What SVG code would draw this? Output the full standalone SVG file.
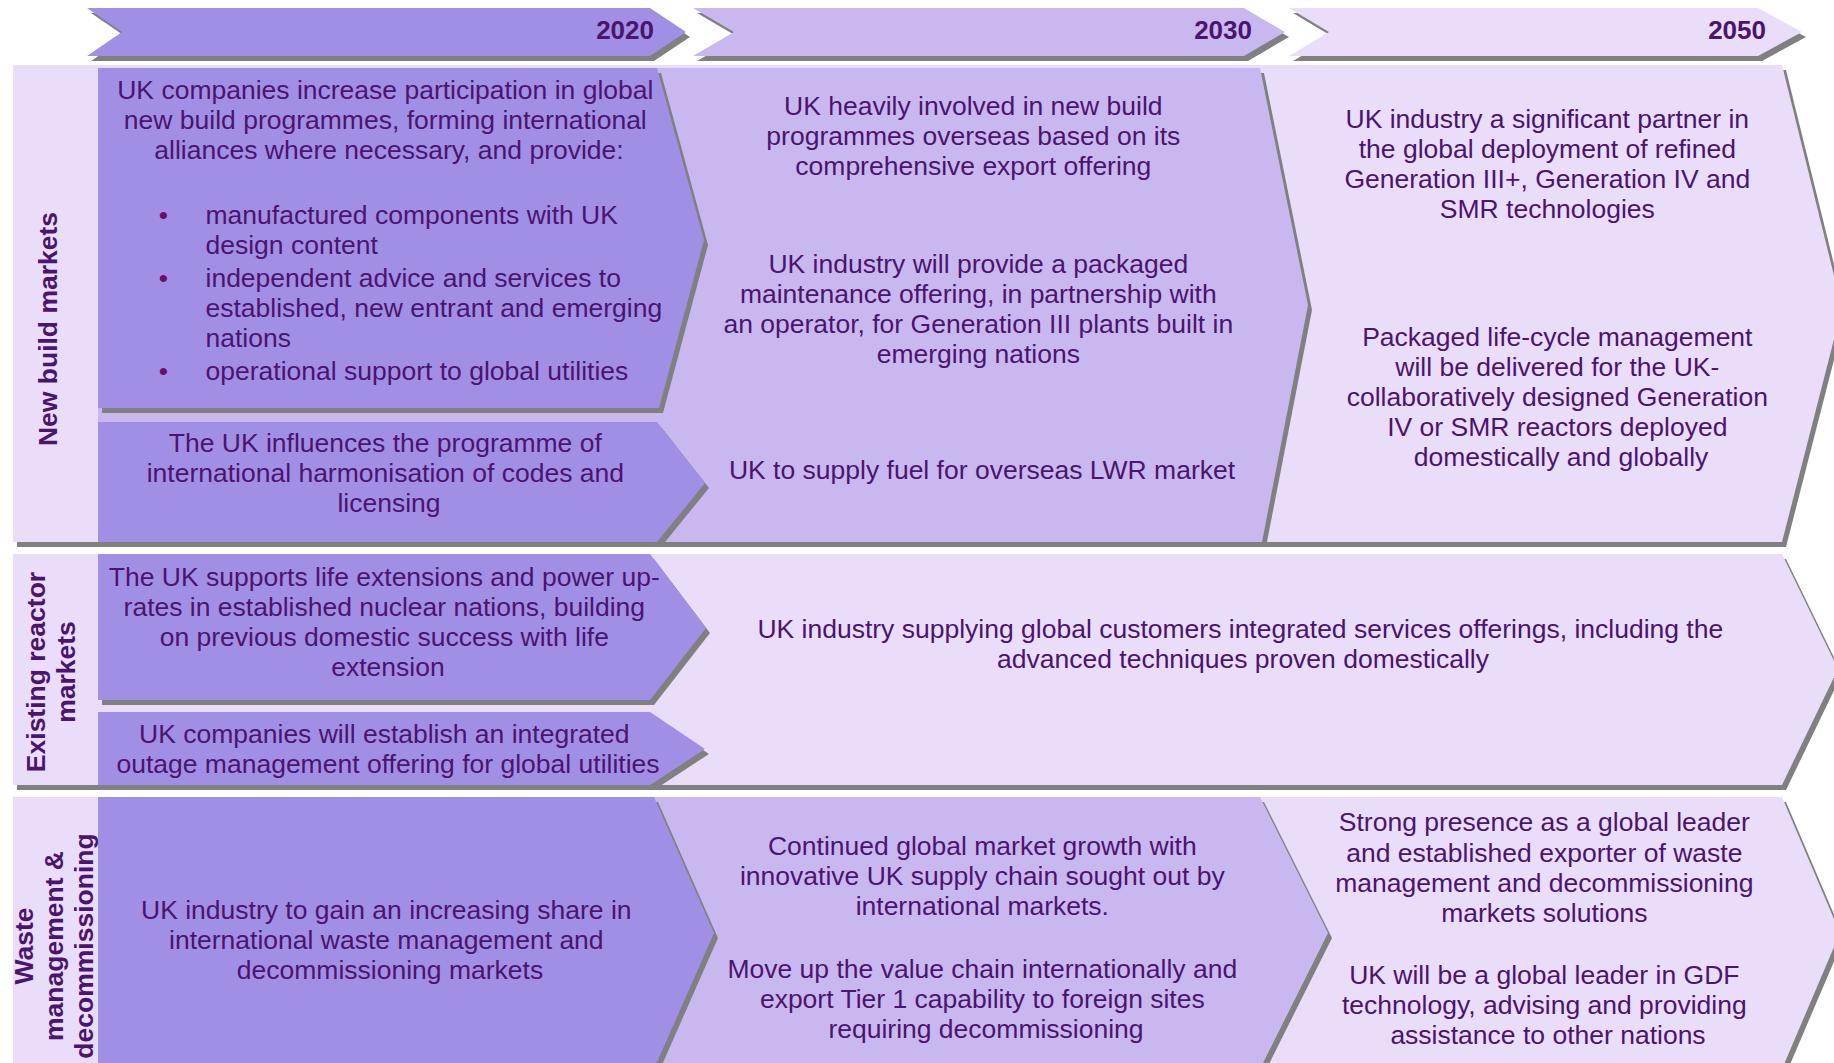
<svg xmlns="http://www.w3.org/2000/svg" xmlns:xlink="http://www.w3.org/1999/xlink" width="1834" height="1063" viewBox="0 0 1834 1063">
<style>
.sh{fill:#808080}
.c1{fill:#A18FE6}
.c2{fill:#C9B8F0}
.c3{fill:#E9DDFA}
text{font-family:"Liberation Sans",Arial,sans-serif;fill:#4B146F}
.t{font-size:26.5px;text-anchor:middle}
.l{font-size:26.5px;text-anchor:start}
.bu{font-size:26.5px;text-anchor:middle;fill:#6B0F6B}
.yr{font-size:26px;font-weight:bold;text-anchor:end}
.lbl{font-size:26.5px;font-weight:bold;text-anchor:middle}
</style>
<defs>
<polygon id="ph2020" points="87,8 650,8 686,32 650,56 87,56 122,32"/>
<polygon id="ph2030" points="693,8 1244,8 1285,32 1244,56 693,56 734,32"/>
<polygon id="ph2050" points="1289,8 1758,8 1802,32 1758,56 1289,56 1329,32"/>
<polygon id="pr1bg" points="13,65 1782,65 1842,308 1782,542 13,542"/>
<polygon id="pr1c2" points="98,68 1260,68 1308,305 1262,542 98,542"/>
<polygon id="pr1a" points="98,68 657,68 704,240 659,408 98,408"/>
<polygon id="pr1b" points="98,422 657,422 705,483 657,542 98,542"/>
<polygon id="pr2bg" points="13,554 1782,554 1838,669 1782,785 13,785"/>
<polygon id="pr2a" points="98,554 650,554 706,628 650,700 98,700"/>
<polygon id="pr2b" points="98,712 650,712 705,749 650,785 98,785"/>
<polygon id="pr3bg" points="13,797 1782,797 1840,933 1782,1069 13,1069"/>
<polygon id="pr3c2" points="98,797 1260,797 1328,933 1260,1069 98,1069"/>
<polygon id="pr3a" points="98,797 654,797 714,933 654,1069 98,1069"/>
</defs>
<rect width="1834" height="1063" fill="#FFFFFF"/>

<g id="header-2020">
<use xlink:href="#ph2020" class="sh" transform="translate(4,5)"/>
<use xlink:href="#ph2020" class="c1"/>
<text class="yr" x="654" y="39">2020</text>
</g>
<g id="header-2030">
<use xlink:href="#ph2030" class="sh" transform="translate(4,5)"/>
<use xlink:href="#ph2030" class="c2"/>
<text class="yr" x="1252" y="39">2030</text>
</g>
<g id="header-2050">
<use xlink:href="#ph2050" class="sh" transform="translate(4,5)"/>
<use xlink:href="#ph2050" class="c3"/>
<text class="yr" x="1766" y="39">2050</text>
</g>

<g id="row-new-build">
<use xlink:href="#pr1bg" class="sh" transform="translate(4,5)"/>
<use xlink:href="#pr1bg" class="c3"/>
<text class="lbl" transform="translate(57,329) rotate(-90)">New build markets</text>
<text class="t">
<tspan x="1551" y="128">UK industry a significant partner in</tspan>
<tspan x="1551" y="158">the global deployment of refined</tspan>
<tspan x="1551" y="188">Generation III+, Generation IV and</tspan>
<tspan x="1551" y="218">SMR technologies</tspan>
<tspan x="1561" y="346">Packaged life-cycle management</tspan>
<tspan x="1561" y="376">will be delivered for the UK-</tspan>
<tspan x="1561" y="406">collaboratively designed Generation</tspan>
<tspan x="1561" y="436">IV or SMR reactors deployed</tspan>
<tspan x="1561" y="466">domestically and globally</tspan>
</text>
</g>
<g id="newbuild-2030">
<use xlink:href="#pr1c2" class="sh" transform="translate(4,5)"/>
<use xlink:href="#pr1c2" class="c2"/>
<text class="t">
<tspan x="977" y="115">UK heavily involved in new build</tspan>
<tspan x="977" y="145">programmes overseas based on its</tspan>
<tspan x="977" y="175">comprehensive export offering</tspan>
<tspan x="982" y="273">UK industry will provide a packaged</tspan>
<tspan x="982" y="303">maintenance offering, in partnership with</tspan>
<tspan x="982" y="333">an operator, for Generation III plants built in</tspan>
<tspan x="982" y="363">emerging nations</tspan>
<tspan x="982" y="479">UK to supply fuel for overseas LWR market</tspan>
</text>
</g>
<g id="newbuild-2020-participation">
<use xlink:href="#pr1a" class="sh" transform="translate(4,5)"/>
<use xlink:href="#pr1a" class="c1"/>
<text class="t">
<tspan x="389" y="99">UK companies increase participation in global</tspan>
<tspan x="389" y="129">new build programmes, forming international</tspan>
<tspan x="389" y="159">alliances where necessary, and provide:</tspan>
</text>
<text class="bu"><tspan x="163.5" y="224">•</tspan><tspan x="163.5" y="287">•</tspan><tspan x="163.5" y="380">•</tspan></text>
<text class="l">
<tspan x="205.5" y="224">manufactured components with UK</tspan>
<tspan x="205.5" y="254">design content</tspan>
<tspan x="205.5" y="287">independent advice and services to</tspan>
<tspan x="205.5" y="317">established, new entrant and emerging</tspan>
<tspan x="205.5" y="347">nations</tspan>
<tspan x="205.5" y="380">operational support to global utilities</tspan>
</text>
</g>
<g id="newbuild-2020-harmonisation">
<use xlink:href="#pr1b" class="sh" transform="translate(4,5)"/>
<use xlink:href="#pr1b" class="c1"/>
<text class="t">
<tspan x="389" y="452">The UK influences the programme of</tspan>
<tspan x="389" y="482">international harmonisation of codes and</tspan>
<tspan x="389" y="512">licensing</tspan>
</text>
</g>

<g id="row-existing-reactor">
<use xlink:href="#pr2bg" class="sh" transform="translate(4,5)"/>
<use xlink:href="#pr2bg" class="c3"/>
<text class="lbl" transform="translate(45,672) rotate(-90)"><tspan x="0" y="0">Existing reactor</tspan><tspan x="0" y="29.5">markets</tspan></text>
<text class="t">
<tspan x="1244" y="638">UK industry supplying global customers integrated services offerings, including the</tspan>
<tspan x="1243" y="668">advanced techniques proven domestically</tspan>
</text>
</g>
<g id="existing-2020-life-extension">
<use xlink:href="#pr2a" class="sh" transform="translate(4,5)"/>
<use xlink:href="#pr2a" class="c1"/>
<text class="t">
<tspan x="388" y="586">The UK supports life extensions and power up-</tspan>
<tspan x="388" y="616">rates in established nuclear nations, building</tspan>
<tspan x="388" y="646">on previous domestic success with life</tspan>
<tspan x="388" y="676">extension</tspan>
</text>
</g>
<g id="existing-2020-outage">
<use xlink:href="#pr2b" class="sh" transform="translate(4,5)"/>
<use xlink:href="#pr2b" class="c1"/>
<text class="t">
<tspan x="388" y="743">UK companies will establish an integrated</tspan>
<tspan x="388" y="773">outage management offering for global utilities</tspan>
</text>
</g>

<g id="row-waste">
<use xlink:href="#pr3bg" class="sh" transform="translate(4,5)"/>
<use xlink:href="#pr3bg" class="c3"/>
<text class="t">
<tspan x="1548" y="831">Strong presence as a global leader</tspan>
<tspan x="1548" y="862">and established exporter of waste</tspan>
<tspan x="1548" y="892">management and decommissioning</tspan>
<tspan x="1548" y="922">markets solutions</tspan>
<tspan x="1548" y="984">UK will be a global leader in GDF</tspan>
<tspan x="1548" y="1014">technology, advising and providing</tspan>
<tspan x="1548" y="1044">assistance to other nations</tspan>
</text>
</g>
<g id="waste-2030">
<use xlink:href="#pr3c2" class="sh" transform="translate(4,5)"/>
<use xlink:href="#pr3c2" class="c2"/>
<text class="t">
<tspan x="986" y="855">Continued global market growth with</tspan>
<tspan x="986" y="885">innovative UK supply chain sought out by</tspan>
<tspan x="986" y="915">international markets.</tspan>
<tspan x="986" y="978">Move up the value chain internationally and</tspan>
<tspan x="986" y="1008">export Tier 1 capability to foreign sites</tspan>
<tspan x="986" y="1038">requiring decommissioning</tspan>
</text>
</g>
<g id="waste-2020">
<use xlink:href="#pr3a" class="sh" transform="translate(4,5)"/>
<use xlink:href="#pr3a" class="c1"/>
<text class="t">
<tspan x="390" y="919">UK industry to gain an increasing share in</tspan>
<tspan x="390" y="949">international waste management and</tspan>
<tspan x="390" y="979">decommissioning markets</tspan>
</text>
</g>
<g id="waste-label">
<text class="lbl" transform="translate(33,946) rotate(-90)"><tspan x="0" y="0">Waste</tspan><tspan x="0" y="30">management &amp;</tspan><tspan x="0" y="60">decommissioning</tspan></text>
</g>
</svg>
